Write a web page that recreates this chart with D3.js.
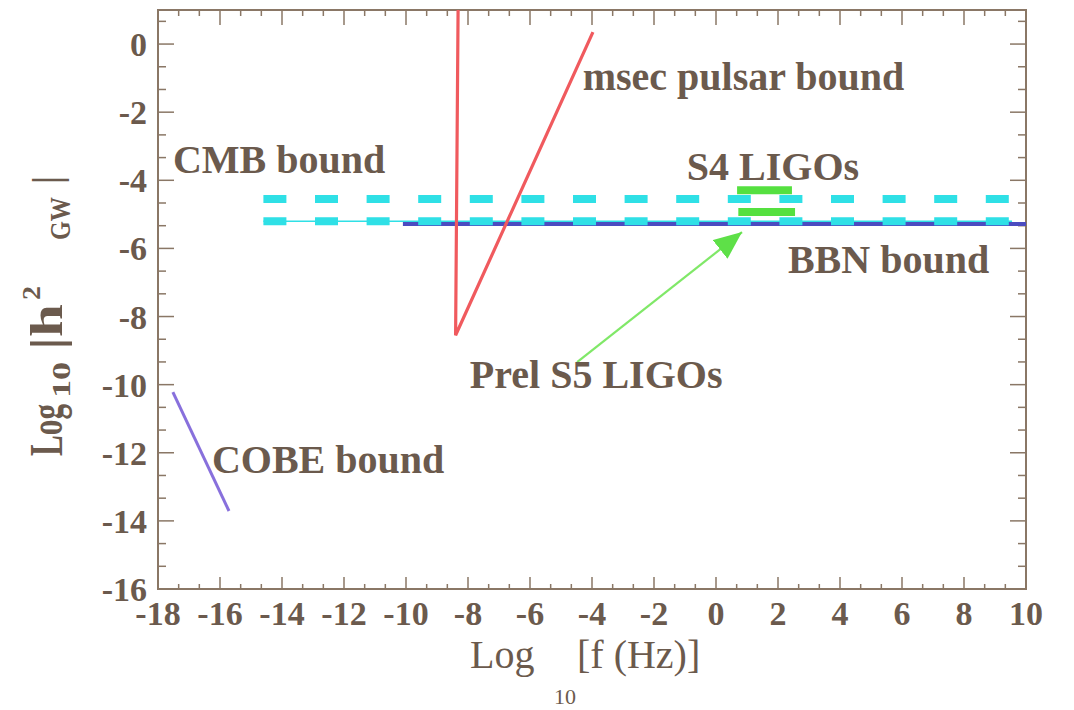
<!DOCTYPE html>
<html>
<head>
<meta charset="utf-8">
<script src="https://cdn.jsdelivr.net/npm/d3@7"></script>
<style>
  html, body { margin: 0; padding: 0; background: #ffffff; }
  svg { display: block; }
  text { font-family: "Liberation Serif", "Times New Roman", serif; fill: #6b5a4d; }
</style>
</head>
<body>
<svg id="chart" width="1074" height="710"></svg>
<script>
// ---- data ----
const xTickValues = [-18, -16, -14, -12, -10, -8, -6, -4, -2, 0, 2, 4, 6, 8, 10];
const xTickLabels = ["-18", "-16", "-14", "-12", "-10", "-8", "-6", "-4", "-2", "0", "2", "4", "6", "8", "10"];
const yTickValues = [0, -2, -4, -6, -8, -10, -12, -14, -16];
const yTickLabels = ["0", "-2", "-4", "-6", "-8", "-10", "-12", "-14", "-16"];

// msec pulsar bound (V shape)
const pulsarX = [-8.32, -8.40, -3.97];
const pulsarY = [1.0, -8.55, 0.35];
// COBE bound
const cobeX = [-17.52, -15.71];
const cobeY = [-10.22, -13.71];
// BBN bound
const bbnX = [-10.1, 10.0];
const bbnY = [-5.28, -5.28];
// CMB bound (two dashed levels)
const cmbX = [-14.6, 9.55];
const cmbUpperY = [-4.55, -4.55];
const cmbLowerY = [-5.20, -5.20];
// LIGO limits
const s4X = [0.68, 2.45];
const s4Y = [-4.29, -4.29];
const s5X = [0.72, 2.55];
const s5Y = [-4.93, -4.93];
// arrow from label to S5 bar
const arrowX = [-4.48, 0.84];
const arrowY = [-9.34, -5.52];

const labels = [
  { text: "msec pulsar bound", x: -4.3, y: -1.35 },
  { text: "CMB bound", x: -17.52, y: -3.79 },
  { text: "S4 LIGOs", x: -0.94, y: -3.99 },
  { text: "BBN bound", x: 2.32, y: -6.72 },
  { text: "Prel S5 LIGOs", x: -7.94, y: -10.1 },
  { text: "COBE bound", x: -16.26, y: -12.59 }
];

// ---- layout ----
const svg = d3.select("#chart");
const L = 158, R = 1026, T = 10, B = 589;
const x = d3.scaleLinear().domain([-18, 10]).range([L, R]);
const y = d3.scaleLinear().domain([-16, 1]).range([B, T]);

const axisColor = "#8a7766";

// frame
svg.append("rect").attr("x", L).attr("y", T).attr("width", R - L).attr("height", B - T)
  .attr("fill", "none").attr("stroke", axisColor).attr("stroke-width", 2);

// minor / major ticks every 2/3 unit
const xMinor = d3.range(0, 43).map(i => -18 + i * 2 / 3).filter(v => v <= 10.001);
const yMinor = d3.range(0, 26).map(i => -16 + i * 2 / 3).filter(v => v <= 1.001);
const isMajor = (v) => Math.abs(v - Math.round(v)) < 0.01 && Math.round(v) % 2 === 0;

const tickG = svg.append("g").attr("stroke", axisColor).attr("stroke-width", 1.5);
xMinor.forEach(v => {
  const m = isMajor(v);
  tickG.append("line").attr("x1", x(v)).attr("x2", x(v)).attr("y1", B).attr("y2", B - (m ? 12 : 5));
  tickG.append("line").attr("x1", x(v)).attr("x2", x(v)).attr("y1", T).attr("y2", T + (m ? 15 : 6));
});
yMinor.forEach(v => {
  const m = isMajor(v);
  tickG.append("line").attr("y1", y(v)).attr("y2", y(v)).attr("x1", L).attr("x2", L + (m ? 16 : 8));
  tickG.append("line").attr("y1", y(v)).attr("y2", y(v)).attr("x1", R).attr("x2", R - (m ? 16 : 8));
});

// tick labels
svg.append("g").selectAll("text").data(xTickValues).join("text")
  .attr("x", d => x(d)).attr("y", 625)
  .attr("text-anchor", "middle").attr("font-size", 34).attr("font-weight", "bold")
  .text((d, i) => xTickLabels[i]);
svg.append("g").selectAll("text").data(yTickValues).join("text")
  .attr("x", 147).attr("y", d => y(d) + 12)
  .attr("text-anchor", "end").attr("font-size", 34).attr("font-weight", "bold")
  .text((d, i) => yTickLabels[i]);

// ---- marks ----
const line = d3.line().x(d => x(d[0])).y(d => y(d[1]));
const pts = (xs, ys) => xs.map((v, i) => [v, ys[i]]);

// BBN
svg.append("path").datum(pts(bbnX, bbnY)).attr("d", line)
  .attr("fill", "none").attr("stroke", "#4b4cc0").attr("stroke-width", 4);
// CMB thin + dashed
svg.append("path").datum(pts(cmbX, cmbLowerY)).attr("d", line)
  .attr("fill", "none").attr("stroke", "#2fe0e6").attr("stroke-width", 1.5);
[cmbUpperY, cmbLowerY].forEach(ys => {
  svg.append("path").datum(pts(cmbX, ys)).attr("d", line)
    .attr("fill", "none").attr("stroke", "#2fe0e6").attr("stroke-width", 8)
    .attr("stroke-dasharray", "23,28.6");
});
// LIGO bars
[[s4X, s4Y], [s5X, s5Y]].forEach(([xs, ys]) => {
  svg.append("path").datum(pts(xs, ys)).attr("d", line)
    .attr("fill", "none").attr("stroke", "#55e040").attr("stroke-width", 8);
});
// pulsar
svg.append("path").datum(pts(pulsarX, pulsarY)).attr("d", line)
  .attr("fill", "none").attr("stroke", "#f05a5e").attr("stroke-width", 3.2)
  .attr("stroke-linejoin", "miter");
// COBE
svg.append("path").datum(pts(cobeX, cobeY)).attr("d", line)
  .attr("fill", "none").attr("stroke", "#8870dc").attr("stroke-width", 3);

// arrow
svg.append("defs").append("marker")
  .attr("id", "ah").attr("markerUnits", "userSpaceOnUse")
  .attr("markerWidth", 30).attr("markerHeight", 24)
  .attr("refX", 28).attr("refY", 12).attr("orient", "auto")
  .append("path").attr("d", "M0,0 L28,12 L0,24 Z").attr("fill", "#5ee048");
svg.append("path").datum(pts(arrowX, arrowY)).attr("d", line)
  .attr("fill", "none").attr("stroke", "#80e868").attr("stroke-width", 2.2)
  .attr("marker-end", "url(#ah)");

// text labels
svg.append("g").selectAll("text").data(labels).join("text")
  .attr("x", d => x(d.x)).attr("y", d => y(d.y))
  .attr("font-size", 40).attr("font-weight", "bold")
  .text(d => d.text);

// x axis title
const xt = svg.append("g");
xt.append("text").attr("x", 470).attr("y", 668).attr("font-size", 40).text("Log");
xt.append("text").attr("x", 554).attr("y", 704).attr("font-size", 22).text("10");
xt.append("text").attr("x", 577).attr("y", 668).attr("font-size", 40).text("[f (Hz)]");

// y axis title (condensed, rotated); positions along the text direction
const yt = svg.append("g").attr("transform", "translate(0,456) rotate(-90)");
const yParts = [
  { t: "Log", s: 0,   len: 52, size: 46, base: 62 },
  { t: "10",  s: 58,  len: 36, size: 26, base: 70 },
  { t: "|h",  s: 106, len: 46, size: 46, base: 62 },
  { t: "2",   s: 156, len: 14, size: 26, base: 40 },
  { t: "GW",  s: 216, len: 43, size: 30, base: 70 },
  { t: "|",   s: 272, len: 8,  size: 40, base: 60 }
];
yt.selectAll("text").data(yParts).join("text")
  .attr("x", d => d.s).attr("y", d => d.base)
  .attr("font-size", d => d.size).attr("font-weight", "bold")
  .attr("textLength", d => d.len).attr("lengthAdjust", "spacingAndGlyphs")
  .text(d => d.t);
</script>
</body>
</html>
